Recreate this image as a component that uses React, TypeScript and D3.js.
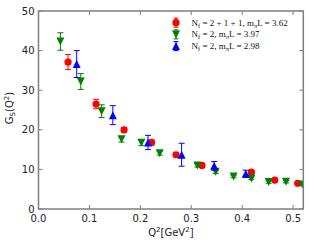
import { useEffect, useRef } from 'react';
import * as d3 from 'd3';

// Nf = 2+1+1, mπL = 3.62
const redX = [0.058, 0.113, 0.168, 0.222, 0.270, 0.321, 0.418, 0.464, 0.509];
const redY = [37.1, 26.5, 20.0, 16.8, 13.7, 11.0, 9.3, 7.3, 6.5];
const redErr = [1.9, 1.2, 0.6, 0.6, 0.4, 0.4, 0.4, 0.3, 0.3];

// Nf = 2, mπL = 3.97
const greenX = [0.043, 0.083, 0.124, 0.163, 0.202, 0.238, 0.312, 0.348, 0.383, 0.418, 0.452, 0.486, 0.518];
const greenY = [42.3, 32.2, 24.7, 17.6, 16.7, 14.1, 11.0, 9.4, 8.2, 7.7, 6.8, 6.9, 6.2];
const greenErr = [2.2, 2.0, 1.6, 0.7, 0.7, 0.5, 0.4, 0.4, 0.3, 0.3, 0.3, 0.3, 0.3];

// Nf = 2, mπL = 2.98
const blueX = [0.075, 0.146, 0.215, 0.281, 0.345, 0.407];
const blueY = [36.6, 23.7, 16.8, 13.7, 10.9, 8.9];
const blueErr = [3.4, 2.4, 1.8, 2.9, 1.1, 0.9];

const xTicks = [0.0, 0.1, 0.2, 0.3, 0.4, 0.5];
const yTicks = [0, 10, 20, 30, 40, 50];

const W = 309;
const H = 245;
const margin = { left: 38.5, right: 5.7, top: 11, bottom: 36 };

export default function App() {
  const ref = useRef<SVGSVGElement>(null);

  useEffect(() => {
    const svg = d3.select(ref.current);
    svg.selectAll('*').remove();

    const x = d3.scaleLinear().domain([0, 0.52]).range([margin.left, W - margin.right]);
    const y = d3.scaleLinear().domain([0, 50]).range([H - margin.bottom, margin.top]);
    const tickFont = '10px "DejaVu Sans", sans-serif';

    svg.append('defs').append('clipPath').attr('id', 'plotclip')
      .append('rect')
      .attr('x', x(0)).attr('y', y(50))
      .attr('width', x(0.52) - x(0)).attr('height', y(0) - y(50));

    const axisColor = '#7f7f7f';
    // ticks on all four sides, pointing in
    const ticksG = svg.append('g').attr('stroke', axisColor).attr('stroke-width', 1);
    xTicks.forEach(t => {
      ticksG.append('line').attr('x1', x(t)).attr('x2', x(t)).attr('y1', y(0)).attr('y2', y(0) - 4);
      ticksG.append('line').attr('x1', x(t)).attr('x2', x(t)).attr('y1', y(50)).attr('y2', y(50) + 4);
    });
    yTicks.forEach(t => {
      ticksG.append('line').attr('x1', x(0)).attr('x2', x(0) + 4).attr('y1', y(t)).attr('y2', y(t));
      ticksG.append('line').attr('x1', x(0.52)).attr('x2', x(0.52) - 4).attr('y1', y(t)).attr('y2', y(t));
    });

    svg.append('g').selectAll('text').data(xTicks).enter().append('text')
      .attr('x', d => x(d)).attr('y', y(0) + 13)
      .attr('text-anchor', 'middle')
      .style('font', tickFont).attr('fill', '#222')
      .text(d => d3.format('.1f')(d));

    svg.append('g').selectAll('text').data(yTicks).enter().append('text')
      .attr('x', x(0) - 4).attr('y', d => y(d) + 3.5)
      .attr('text-anchor', 'end')
      .style('font', tickFont).attr('fill', '#222')
      .text(d => String(d));

    const series = [
      { xs: redX, ys: redY, es: redErr, color: '#ff0000', shape: 'circle' },
      { xs: greenX, ys: greenY, es: greenErr, color: '#008000', shape: 'down' },
      { xs: blueX, ys: blueY, es: blueErr, color: '#0000ff', shape: 'up' },
    ];

    const marker = (g: any, shape: string, cx: number, cy: number, color: string) => {
      const s = 4;
      if (shape === 'circle') {
        g.append('circle').attr('cx', cx).attr('cy', cy).attr('r', 3.6).attr('fill', color);
      } else if (shape === 'down') {
        g.append('path').attr('d', `M${cx - s},${cy - s}L${cx + s},${cy - s}L${cx},${cy + s}Z`).attr('fill', color);
      } else {
        g.append('path').attr('d', `M${cx - s},${cy + s}L${cx + s},${cy + s}L${cx},${cy - s}Z`).attr('fill', color);
      }
    };

    const plot = svg.append('g').attr('clip-path', 'url(#plotclip)');
    series.forEach(sr => {
      sr.xs.forEach((xv, i) => {
        const cx = x(xv);
        const y1 = y(sr.ys[i] + sr.es[i]);
        const y2 = y(sr.ys[i] - sr.es[i]);
        const g = plot.append('g');
        g.append('line').attr('x1', cx).attr('x2', cx).attr('y1', y1).attr('y2', y2).attr('stroke', sr.color).attr('stroke-width', 1);
        g.append('line').attr('x1', cx - 3).attr('x2', cx + 3).attr('y1', y1).attr('y2', y1).attr('stroke', sr.color).attr('stroke-width', 1);
        g.append('line').attr('x1', cx - 3).attr('x2', cx + 3).attr('y1', y2).attr('y2', y2).attr('stroke', sr.color).attr('stroke-width', 1);
        marker(g, sr.shape, cx, y(sr.ys[i]), sr.color);
      });
    });

    // frame
    svg.append('rect')
      .attr('x', x(0)).attr('y', y(50))
      .attr('width', x(0.52) - x(0)).attr('height', y(0) - y(50))
      .attr('fill', 'none').attr('stroke', axisColor).attr('stroke-width', 1.5);

    // legend
    const legendLabels = [
      { sub: 'f', rest: ' = 2 + 1 + 1,  m', val: 'L = 3.62' },
      { sub: 'f', rest: ' = 2,  m', val: 'L = 3.97' },
      { sub: 'f', rest: ' = 2,  m', val: 'L = 2.98' },
    ];
    const leg = svg.append('g');
    legendLabels.forEach((lab, i) => {
      const ly = 22.7 + i * 11.7;
      const sr = series[i];
      const g = leg.append('g');
      g.append('line').attr('x1', 176).attr('x2', 176).attr('y1', ly - 4.5).attr('y2', ly + 4.5).attr('stroke', sr.color);
      g.append('line').attr('x1', 173.5).attr('x2', 178.5).attr('y1', ly - 4.5).attr('y2', ly - 4.5).attr('stroke', sr.color);
      g.append('line').attr('x1', 173.5).attr('x2', 178.5).attr('y1', ly + 4.5).attr('y2', ly + 4.5).attr('stroke', sr.color);
      marker(g, sr.shape, 176, ly, sr.color);
      const t = leg.append('text').attr('x', 191.5).attr('y', ly + 3)
        .style('font', '9px "Liberation Serif", serif').attr('fill', '#111');
      t.append('tspan').text('N');
      t.append('tspan').attr('dy', 2).style('font-size', '6.5px').text(lab.sub);
      t.append('tspan').attr('dy', -2).text(lab.rest);
      t.append('tspan').attr('dy', 2).style('font-size', '6.5px').text('π');
      t.append('tspan').attr('dy', -2).text(lab.val);
    });

    // axis labels
    const yl = svg.append('text')
      .attr('transform', `translate(13,108) rotate(-90)`)
      .attr('text-anchor', 'middle')
      .style('font', '10px "DejaVu Sans", sans-serif').attr('fill', '#222');
    yl.append('tspan').text('G');
    yl.append('tspan').attr('dy', 2).style('font-size', '7px').text('S');
    yl.append('tspan').attr('dy', -2).text('(Q');
    yl.append('tspan').attr('dy', -4).style('font-size', '7px').text('2');
    yl.append('tspan').attr('dy', 4).text(')');

    const xl = svg.append('text')
      .attr('x', (x(0) + x(0.52)) / 2).attr('y', 235.5)
      .attr('text-anchor', 'middle')
      .style('font', '10px "DejaVu Sans", sans-serif').attr('fill', '#222');
    xl.append('tspan').text('Q');
    xl.append('tspan').attr('dy', -4).style('font-size', '7px').text('2');
    xl.append('tspan').attr('dy', 4).text('[GeV');
    xl.append('tspan').attr('dy', -4).style('font-size', '7px').text('2');
    xl.append('tspan').attr('dy', 4).text(']');
  }, []);

  return (
    <svg ref={ref} width={W} height={H} style={{ position: 'absolute', left: 0, top: 0, background: '#fff' }} />
  );
}
